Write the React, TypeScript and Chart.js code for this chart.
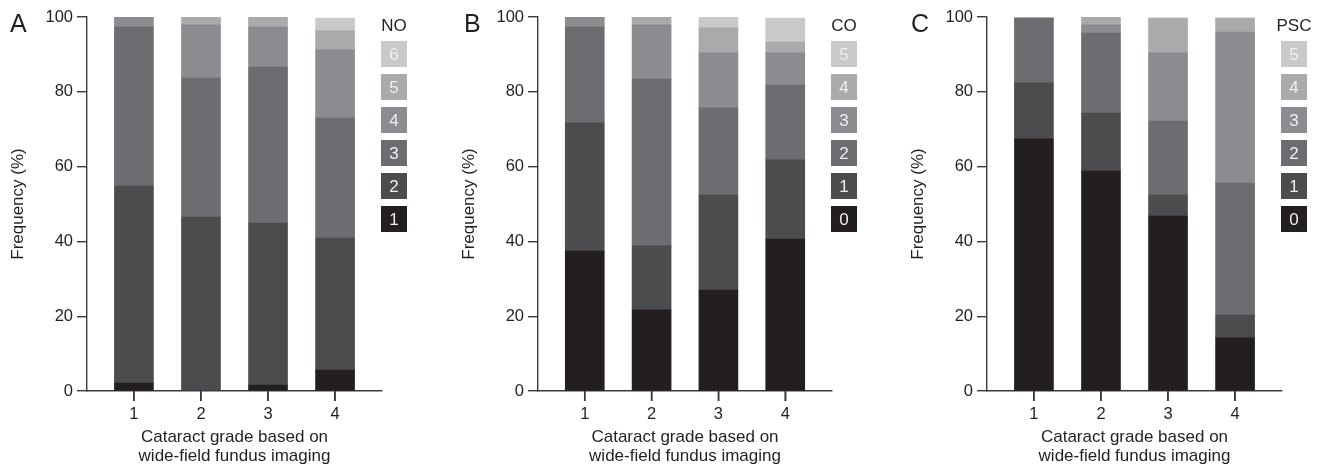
import React, { useEffect, useRef } from "react";
import { Chart, registerables } from "chart.js";

Chart.register(...registerables);

// ---------- data ----------
const grades = [1, 2, 3, 4];
const yTicks = [0, 20, 40, 60, 80, 100];
const xAxisTitle = ["Cataract grade based on", "wide-field fundus imaging"];
const yAxisTitle = "Frequency (%)";

// Panel A: nuclear opalescence (NO), levels 1..6
const noLevels = ["1", "2", "3", "4", "5", "6"];
const no1 = [2.1, 0, 1.6, 5.6];
const no2 = [52.7, 46.5, 43.3, 35.3];
const no3 = [42.5, 37.2, 41.7, 32.1];
const no4 = [2.7, 14.2, 10.7, 18.2];
const no5 = [0, 2.1, 2.7, 5.1];
const no6 = [0, 0, 0, 3.4];

// Panel B: cortical opacity (CO), levels 0..5
const coLevels = ["0", "1", "2", "3", "4", "5"];
const co0 = [37.4, 21.7, 27.0, 40.6];
const co1 = [34.3, 17.1, 25.4, 21.2];
const co2 = [25.6, 44.6, 23.3, 20.0];
const co3 = [2.7, 14.5, 14.7, 8.6];
const co4 = [0, 2.1, 6.7, 2.9];
const co5 = [0, 0, 2.9, 6.4];

// Panel C: posterior subcapsular cataract (PSC), levels 0..5
const pscLevels = ["0", "1", "2", "3", "4", "5"];
const psc0 = [67.4, 58.8, 46.8, 14.2];
const psc1 = [15.0, 15.5, 5.6, 6.1];
const psc2 = [17.3, 21.4, 19.8, 35.3];
const psc3 = [0, 2.2, 18.2, 40.4];
const psc4 = [0, 2.1, 9.3, 3.7];
const psc5 = [0, 0, 0, 0];

// ---------- styles ----------
const shades = ["#231f20", "#4b4c4e", "#6c6d70", "#8b8c8f", "#a9aaac", "#c8c9cb"];
const FONT = '"Liberation Sans", Arial, Helvetica, sans-serif';
const TEXT = "#231f20";
const AXIS = "#3a3a3a";
const TICK_LEN = 10;

const decorPlugin = {
  id: "decor",
  afterDraw(chart: any, _args: any, opts: any) {
    const ctx = chart.ctx as CanvasRenderingContext2D;
    const { right, top, bottom } = chart.chartArea;
    ctx.save();

    // x-axis tick marks at each grade
    const xs = chart.scales.x;
    ctx.strokeStyle = AXIS;
    ctx.lineWidth = 1.6;
    ctx.beginPath();
    for (const g of grades) {
      const px = xs.getPixelForValue(g);
      ctx.moveTo(px, bottom);
      ctx.lineTo(px, bottom + TICK_LEN);
    }
    ctx.stroke();

    // panel letter
    ctx.fillStyle = TEXT;
    ctx.font = `25px ${FONT}`;
    ctx.textAlign = "left";
    ctx.textBaseline = "alphabetic";
    ctx.fillText(opts.letter, opts.letterX, top + 15);

    // legend
    const size = 26;
    const bx = right - 1;
    ctx.font = `17px ${FONT}`;
    ctx.textAlign = "center";
    ctx.fillText(opts.title, bx + size / 2, top + 14);
    const levels: string[] = opts.levels;
    const n = levels.length;
    for (let i = 0; i < n; i++) {
      const idx = n - 1 - i;
      const y = top + 24 + i * 33;
      ctx.fillStyle = shades[idx];
      ctx.fillRect(bx, y, size, size);
      ctx.fillStyle = "#eeeeee";
      ctx.textBaseline = "middle";
      ctx.fillText(levels[idx], bx + size / 2, y + size / 2 + 1);
    }
    ctx.restore();
  },
};

type PanelProps = {
  letter: string;
  letterX: number;
  title: string;
  levels: string[];
  series: number[][];
  left: number;
  width: number;
  padRight: number;
};

function Panel({ letter, letterX, title, levels, series, left, width, padRight }: PanelProps) {
  const ref = useRef<HTMLCanvasElement | null>(null);
  useEffect(() => {
    if (!ref.current) return;
    const gridOpts = {
      display: true,
      drawOnChartArea: false,
      drawTicks: true,
      offset: false,
      tickLength: TICK_LEN,
      color: AXIS,
      lineWidth: 1.4,
    };
    const chart = new Chart(ref.current, {
      type: "bar",
      data: {
        datasets: series.map((vals, i) => ({
          label: levels[i],
          data: grades.map((g, j) => ({ x: g, y: vals[j] })),
          backgroundColor: shades[i],
          borderWidth: 0,
          barThickness: 39,
        })),
      },
      options: {
        animation: false,
        responsive: false,
        devicePixelRatio: 1,
        layout: { padding: { left: 0, top: 17, right: padRight, bottom: 0 } },
        plugins: {
          legend: { display: false },
          tooltip: { enabled: false },
          decor: { letter, letterX, title, levels },
        } as any,
        scales: {
          x: {
            type: "linear",
            min: 0.3,
            max: 4.7,
            stacked: true,
            offset: false,
            afterBuildTicks: (s: any) => {
              s.ticks = grades.map((v) => ({ value: v }));
            },
            afterFit: (s: any) => {
              s.height = 78;
            },
            ticks: {
              color: TEXT,
              font: { size: 16.5, family: FONT },
              padding: 4,
              autoSkip: false,
              maxRotation: 0,
              callback: (v: any) => String(v),
            },
            grid: gridOpts,
            border: { display: true, color: AXIS, width: 1.4 },
            title: {
              display: true,
              text: xAxisTitle,
              color: TEXT,
              font: { size: 17, family: FONT, lineHeight: 1.12 },
              padding: { top: 0, bottom: 3 },
            },
          },
          y: {
            min: 0,
            max: 100,
            stacked: true,
            afterBuildTicks: (s: any) => {
              s.ticks = yTicks.map((v) => ({ value: v }));
            },
            afterFit: (s: any) => {
              s.width = 87;
            },
            ticks: {
              color: TEXT,
              font: { size: 16.5, family: FONT },
              padding: 4,
            },
            grid: gridOpts,
            border: { display: true, color: AXIS, width: 1.4 },
            title: {
              display: true,
              text: yAxisTitle,
              color: TEXT,
              font: { size: 17, family: FONT, lineHeight: 1.2 },
              padding: { top: 7.8, bottom: 0 },
            },
          },
        },
      } as any,
      plugins: [decorPlugin],
    });
    return () => chart.destroy();
  }, []);
  return (
    <div style={{ position: "absolute", left, top: 0, width, height: 469 }}>
      <canvas ref={ref} width={width} height={469} style={{ width, height: 469, display: "block" }} />
    </div>
  );
}

export default function App() {
  return (
    <div
      style={{
        position: "fixed",
        left: 0,
        top: 0,
        width: 1323,
        height: 469,
        background: "#ffffff",
        overflow: "hidden",
      }}
    >
      <Panel
        letter="A"
        letterX={10}
        title="NO"
        levels={noLevels}
        series={[no1, no2, no3, no4, no5, no6]}
        left={0}
        width={450}
        padRight={68}
      />
      <Panel
        letter="B"
        letterX={13}
        title="CO"
        levels={coLevels}
        series={[co0, co1, co2, co3, co4, co5]}
        left={451}
        width={450}
        padRight={69}
      />
      <Panel
        letter="C"
        letterX={11}
        title="PSC"
        levels={pscLevels}
        series={[psc0, psc1, psc2, psc3, psc4, psc5]}
        left={900}
        width={423}
        padRight={41}
      />
    </div>
  );
}
